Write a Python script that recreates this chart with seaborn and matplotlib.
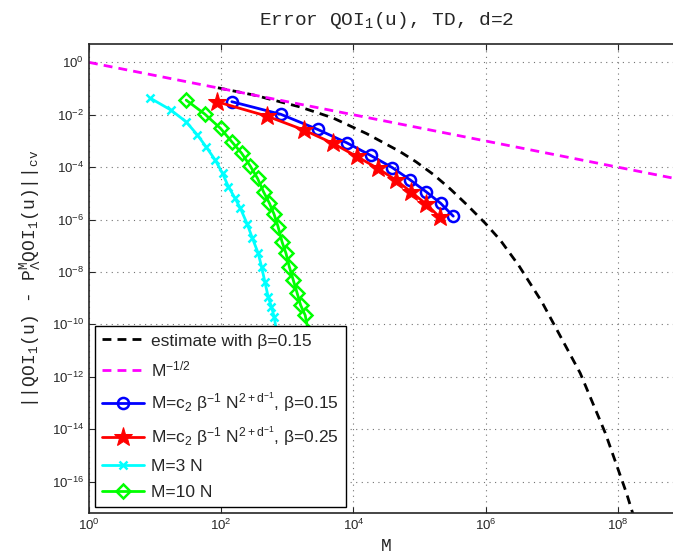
import numpy as np
import pandas as pd
import seaborn as sns
import matplotlib.pyplot as plt
from matplotlib.ticker import FixedLocator, NullLocator

# values, stored as log10(M) and log10(error)
est_logM = [1.95, 2.50, 3.19, 3.69, 4.20, 4.70, 4.95, 5.21, 5.46, 5.71, 5.99, 6.22, 6.50, 6.85, 7.43, 7.81, 8.13, 8.26]
est_logE = [-0.97, -1.25, -1.70, -2.12, -2.72, -3.40, -3.80, -4.28, -4.82, -5.42, -6.13, -6.78, -7.75, -9.14, -11.86, -14.15, -16.44, -17.5]

rate_logM = [0.0, 9.0]
rate_logE = [0.0, -4.5]

b015_logM = [2.16, 2.90, 3.46, 3.90, 4.26, 4.59, 4.86, 5.10, 5.32, 5.51]
b015_logE = [-1.50, -1.98, -2.56, -3.07, -3.55, -4.02, -4.49, -4.94, -5.38, -5.87]

b025_logM = [1.93, 2.69, 3.25, 3.69, 4.05, 4.37, 4.64, 4.87, 5.10, 5.31]
b025_logE = [-1.50, -2.05, -2.58, -3.09, -3.59, -4.05, -4.49, -4.94, -5.41, -5.92]

m3n_logM = [0.93, 1.24, 1.47, 1.64, 1.77, 1.91, 2.02, 2.11, 2.21, 2.29, 2.39, 2.47, 2.56, 2.61, 2.66, 2.71, 2.76, 2.80, 2.84]
m3n_logE = [-1.37, -1.82, -2.27, -2.77, -3.22, -3.73, -4.24, -4.75, -5.19, -5.57, -6.15, -6.70, -7.29, -7.80, -8.37, -8.95, -9.33, -9.71, -10.3]

m10n_logM = [1.47, 1.75, 1.99, 2.16, 2.31, 2.44, 2.55, 2.64, 2.73, 2.80, 2.86, 2.92, 2.98, 3.03, 3.09, 3.15, 3.20, 3.27, 3.32]
m10n_logE = [-1.44, -1.97, -2.52, -3.03, -3.47, -3.96, -4.43, -4.94, -5.38, -5.80, -6.27, -6.85, -7.29, -7.80, -8.31, -8.82, -9.26, -9.65, -10.3]

x_ticks = [1e0, 1e2, 1e4, 1e6, 1e8]
y_ticks = [1e0, 1e-2, 1e-4, 1e-6, 1e-8, 1e-10, 1e-12, 1e-14, 1e-16]


def to_df(lm, le):
    return pd.DataFrame({"M": 10 ** np.array(lm), "err": 10 ** np.array(le)})


sns.set_style("ticks")
plt.rcParams["font.family"] = ["Liberation Sans", "DejaVu Sans"]
plt.rcParams["mathtext.fontset"] = "custom"
plt.rcParams["mathtext.rm"] = "Liberation Sans"
plt.rcParams["mathtext.it"] = "Liberation Sans:italic"
plt.rcParams["mathtext.bf"] = "Liberation Sans:bold"
plt.rcParams["mathtext.sf"] = "Liberation Sans"
plt.rcParams["mathtext.tt"] = "Liberation Mono"

fig = plt.figure(figsize=(6.73, 5.55), dpi=100)
ax = fig.add_axes([89 / 673, 41.7 / 555, 595 / 673, 469 / 555])
ax.set_xscale("log")
ax.set_yscale("log")

common = dict(ax=ax, x="M", y="err", errorbar=None, sort=False, linewidth=2)
sns.lineplot(data=to_df(est_logM, est_logE), color="black", linestyle=(0, (3.2, 2.2)),
             label="estimate with β=0.15", **common)
sns.lineplot(data=to_df(rate_logM, rate_logE), color="magenta", linestyle=(0, (3.2, 2.2)),
             label="M$^{-1/2}$", **common)
sns.lineplot(data=to_df(b015_logM, b015_logE), color="blue", marker="o", markersize=8,
             markerfacecolor="none", markeredgecolor="blue", markeredgewidth=1.8,
             label="M=c$_2$ β$^{-1}$ N$^{2+\\mathrm{d}^{-1}}$, β=0.15", **common)
sns.lineplot(data=to_df(b025_logM, b025_logE), color="red", marker="*", markersize=14,
             markerfacecolor="red", markeredgecolor="red",
             label="M=c$_2$ β$^{-1}$ N$^{2+\\mathrm{d}^{-1}}$, β=0.25", **common)
sns.lineplot(data=to_df(m3n_logM, m3n_logE), color="cyan", marker="x", markersize=6,
             markeredgecolor="cyan", markeredgewidth=1.8, label="M=3 N", **common)
sns.lineplot(data=to_df(m10n_logM, m10n_logE), color="lime", marker="D", markersize=7,
             markerfacecolor="none", markeredgecolor="lime", markeredgewidth=1.8,
             label="M=10 N", **common)

ax.set_xlim(1, 1e9)
ax.set_ylim(10 ** -17.21, 10 ** 0.69)
ax.xaxis.set_major_locator(FixedLocator(x_ticks))
ax.yaxis.set_major_locator(FixedLocator(y_ticks))
ax.xaxis.set_minor_locator(NullLocator())
ax.yaxis.set_minor_locator(NullLocator())
ax.tick_params(direction="in", top=True, right=True, length=4, labelsize=9.5, width=0.8)
ax.grid(True, which="major", linestyle=(0, (1, 4)), color="0.45", linewidth=0.8)
for s in ax.spines.values():
    s.set_linewidth(1.2)

mono = ["Liberation Mono", "DejaVu Sans Mono"]
ax.set_title("Error QOI$_\\mathtt{1}$(u), TD, d=2", family=mono, fontsize=14, pad=14)
ax.set_xlabel("M", family=mono, fontsize=13, labelpad=3)
ax.set_ylabel("||QOI$_\\mathtt{1}$(u) - P$^\\mathtt{M}_{\\Lambda}$QOI$_\\mathtt{1}$(u)||$_\\mathtt{cv}$",
              family=mono, fontsize=13, labelpad=6)

leg = ax.legend(loc="lower left", bbox_to_anchor=(0.01, 0.013), fontsize=12.5,
                frameon=True, fancybox=False, framealpha=1, edgecolor="black",
                handlelength=2.4, borderpad=0.4, labelspacing=0.62, handletextpad=0.45,
                borderaxespad=0)
leg.get_frame().set_linewidth(1.0)

fig.savefig("out.png", dpi=100)
